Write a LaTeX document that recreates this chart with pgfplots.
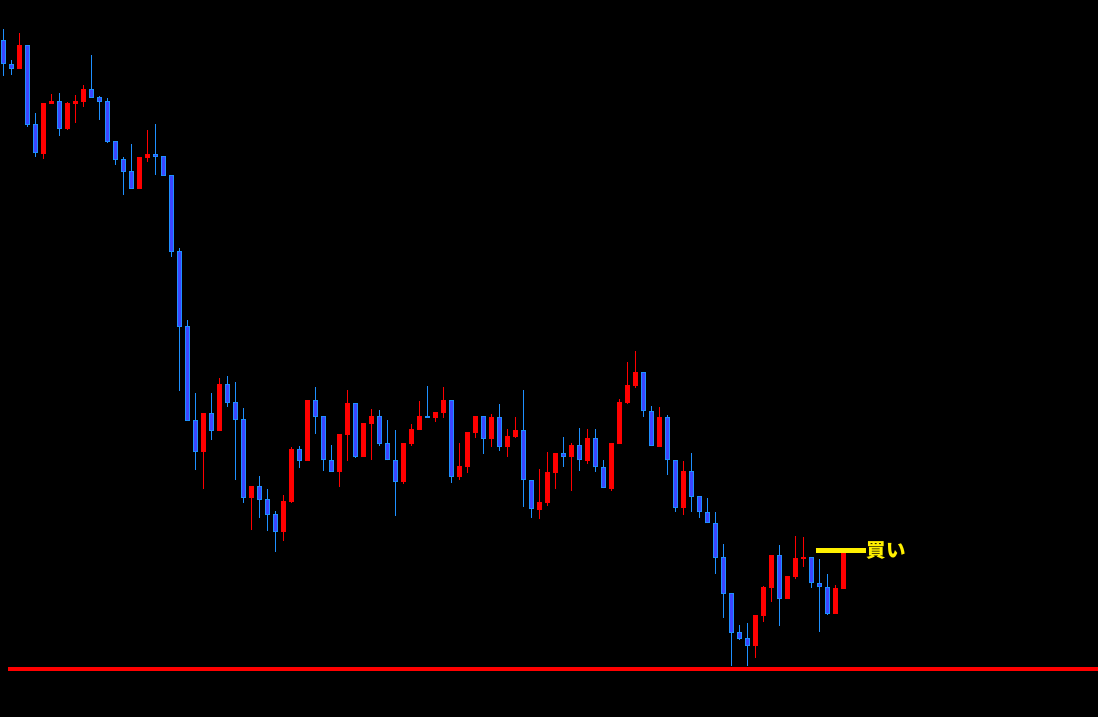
\documentclass[border=0pt]{standalone}
\usepackage{pgfplots}
\usepackage{pgfplotstable}
\usepackage{fontspec}
\newfontfamily\cjk{Noto Sans CJK JP}
\pgfplotsset{compat=1.18}
\definecolor{cblue}{RGB}{60,70,255}
\definecolor{cedge}{RGB}{30,144,255}
\definecolor{cred}{RGB}{255,0,0}
\definecolor{cyel}{RGB}{255,240,0}

% values are chart levels measured downward from the top of the chart
\pgfplotstableread{
i hi top bot lo
0 29 40 64.3 75.7
1 60 64 68.7 74.7
3 45 45.3 124.7 126.7
4 113 124 153.3 156.7
7 93 101 128.7 135.7
11 55 89 97.7 97.7
12 96 97 101.7 119.7
13 98 101 141.7 142.7
14 141 141 159.7 164.7
15 157 159 171.7 194.7
16 144 171 188.7 188.7
19 124 154 156.7 174.7
20 156 156 175.7 175.7
21 175 175.3 251.7 256.7
22 248.3 251.3 326.7 390.7
23 320 326.3 420.7 420.7
24 393 420.3 451.7 470
26 393 413.3 430.7 440
28 376 384.3 402.7 406.7
29 382 402.3 419.7 480
30 408 419.3 497.7 502.7
32 476 486.3 499.7 518
33 489 499.3 514.7 530.7
34 511 514.3 531.7 552
37 446 449.3 460.7 467.7
39 387 400.3 416.7 433.7
40 416.3 416.3 460.3 470.7
41 445 460.3 471.7 471.7
44 403.3 403.3 456.7 457.7
47 410 416.3 443.5 445.7
48 420 443.3 460.3 460.3
49 430 460.3 481.7 515.7
53 386 416.3 417.7 417.7
56 400.3 400.3 476.7 482.7
60 416.3 416.3 438.7 453.7
62 404 417.3 446.7 450.7
65 390 430.3 480.3 506.7
66 480.3 480.3 509.3 517.7
70 437 453.3 456.7 466.7
72 428 445.3 460.3 470.7
74 429 438.3 467.3 471.7
75 460 467.3 488.3 488.3
80 372.3 372.3 411.3 416.7
81 406 411.3 446.3 446.3
83 415 417.3 460.3 474.7
84 460.3 460.3 507.5 511.7
86 453 471.3 496.5 511.7
87 496.3 496.3 512.3 517.7
88 498.3 512.3 523.3 523.3
89 512 523.3 557.7 573.7
90 544 557.3 593.5 617.7
91 593.3 593.3 632.7 666
92 625 632.3 638.7 639.7
93 623 638.3 645.7 666
97 545 555 598.7 625.7
101 557 557 583.3 587.7
102 559 583 587.3 631.7
103 574 587.3 613.7 614.7
}\bluetab

\pgfplotstableread{
i hi top bot lo
2 33 45 68.7 68.7
5 103 103 153.7 158.7
6 94 101 103.7 103.7
8 102 103 129 129.7
9 95 101 103.7 122.7
10 85 89 101.7 106.7
17 157 157 188.7 188.7
18 130 154 157.7 161.7
25 413 413 451.7 489
27 378 384 431 431
31 486 486 497.7 530
35 495 501 531.7 540.7
36 447 449 502 502.7
38 400 400 460.7 460.7
42 434 434 471.7 486.7
43 390 403 434.7 460.7
45 423 423 457 457
46 409 416 423.7 459.7
50 443 443 481.7 483.7
51 424 429 443.7 445.7
52 401 416 429.7 429.7
54 412 412 417.7 421.7
55 387 400 412.7 417.7
57 443 466 476.7 479.7
58 432 432 467 472.7
59 416 416 432.7 437.7
61 414 417 438.7 446.7
63 429 436 446.7 456.7
64 417 430 437 438
67 469 502 509.7 518.7
68 452 472 502.7 505.7
69 453 453 472.7 488.7
71 443.3 445.3 456.7 490.7
73 429 438 460.7 463.7
76 443.3 443.3 488.7 490.7
77 399.3 402 443.7 443.7
78 362 385 403 403.7
79 351 372 385.7 387.7
82 407 417 446.7 446.7
85 461 471 507.7 514.7
94 615 615 645.7 657.7
95 586 587 615.7 621.7
96 555 555 587.7 601.7
98 576 576 598.7 598.7
99 536 558 576.7 579.3
100 537 557 558.7 566.7
104 585 588 613.7 613.7
105 552.7 552.7 589 589
}\redtab

\begin{document}
\begin{tikzpicture}
\fill[black] (0,0) rectangle (1098bp,717bp);
\useasboundingbox (0,0) rectangle (1098bp,717bp);
\begin{axis}[at={(0,0)}, anchor=south west,
  width=1098bp, height=717bp, scale only axis,
  xmin=0, xmax=1098, ymin=0, ymax=717, y dir=reverse,
  hide axis, clip=false,
  every axis plot/.append style={only marks, mark=*, mark size=0pt, mark options={draw=none, fill=none}}]
% wicks
\addplot[error bars/.cd, y dir=minus, y explicit, error mark=none,
  error bar style={cedge, line width=1.1bp}]
  table[x expr=3.3+8*\thisrow{i}, y=lo, y error expr=\thisrow{lo}-\thisrow{hi}] {\bluetab};
\addplot[error bars/.cd, y dir=minus, y explicit, error mark=none,
  error bar style={cred, line width=1.1bp}]
  table[x expr=3.3+8*\thisrow{i}, y=lo, y error expr=\thisrow{lo}-\thisrow{hi}] {\redtab};
% bodies
\addplot[error bars/.cd, y dir=minus, y explicit, error mark=none,
  error bar style={cedge, line width=5bp}]
  table[x expr=3.3+8*\thisrow{i}, y=bot, y error expr={max(\thisrow{bot}-\thisrow{top},1)}] {\bluetab};
\addplot[error bars/.cd, y dir=minus, y explicit, error mark=none,
  error bar style={cblue, line width=3bp}]
  table[x expr=3.3+8*\thisrow{i}, y expr=\thisrow{bot}-1, y error expr={max(\thisrow{bot}-\thisrow{top}-2,0)}] {\bluetab};
\addplot[error bars/.cd, y dir=minus, y explicit, error mark=none,
  error bar style={cred, line width=5bp}]
  table[x expr=3.3+8*\thisrow{i}, y=bot, y error expr={max(\thisrow{bot}-\thisrow{top},1)}] {\redtab};
% support line and buy marker
\addplot[sharp plot, mark=none, cred, line width=4.5bp] coordinates {(8,669) (1098,669)};
\addplot[sharp plot, mark=none, cyel, line width=4.5bp] coordinates {(815.5,550.3) (865.5,550.3)};
\node[anchor=west, inner sep=0pt, text=cyel, font=\cjk\bfseries\fontsize{19.5bp}{21bp}\selectfont] at (axis cs:866.5,550.5) {買い};
\end{axis}
\end{tikzpicture}
\end{document}
